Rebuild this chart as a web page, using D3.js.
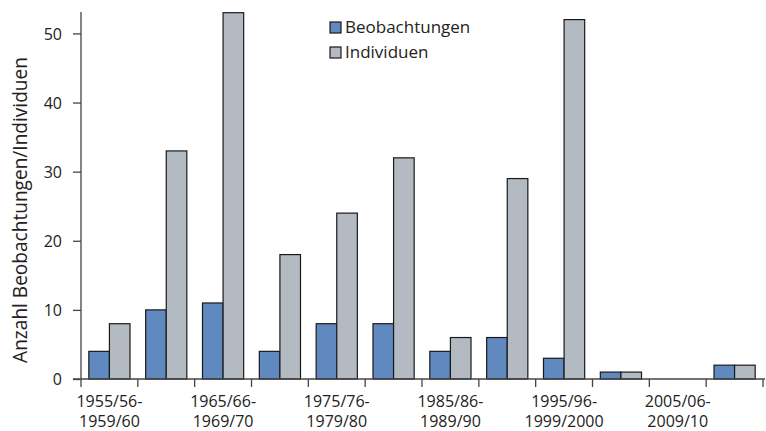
<!DOCTYPE html>
<html><head><meta charset="utf-8">
<script src="https://cdn.jsdelivr.net/npm/d3@7/dist/d3.min.js"></script>
<style>body{margin:0;background:#fff;} svg{display:block;font-family:"Open Sans",sans-serif;}</style>
</head><body><svg id="c" width="766" height="431"></svg>
<script>
const categories = ["1955/56-1959/60","1960/61-1964/65","1965/66-1969/70","1970/71-1974/75","1975/76-1979/80","1980/81-1984/85","1985/86-1989/90","1990/91-1994/95","1995/96-1999/2000","2000/01-2004/05","2005/06-2009/10","2010/11-2014/15"];
const beobachtungen = [4,10,11,4,8,8,4,6,3,1,0,2];
const individuen = [8,33,53,18,24,32,6,29,52,1,0,2];
const seriesNames = ["Beobachtungen","Individuen"];
const yTicks = [0,10,20,30,40,50];
const labelLines = {"1955/56-1959/60":["1955/56-","1959/60"],"1965/66-1969/70":["1965/66-","1969/70"],"1975/76-1979/80":["1975/76-","1979/80"],"1985/86-1989/90":["1985/86-","1989/90"],"1995/96-1999/2000":["1995/96-","1999/2000"],"2005/06-2009/10":["2005/06-","2009/10"]};

const colors = ["#5f89bf","#b3bac2"];
const svg = d3.select("#c");
const L = 81, R = 763, T = 12, B = 379;
const x = d3.scaleBand().domain(categories).range([L, R]).paddingInner(0).paddingOuter(0);
const inner = d3.scaleBand().domain(seriesNames).range([0, x.bandwidth()]).paddingInner(0).paddingOuter(0.38);
const y = d3.scaleLinear().domain([0, 53.1]).range([B, T]);

const data = categories.map((c,i)=>({c, vals:[beobachtungen[i], individuen[i]]}));
const g = svg.append("g");
data.forEach(d=>{
  d.vals.forEach((v,j)=>{
    if (v<=0) return;
    g.append("rect")
      .attr("x", x(d.c)+inner(seriesNames[j]))
      .attr("y", y(v))
      .attr("width", inner.bandwidth())
      .attr("height", y(0)-y(v))
      .attr("fill", colors[j])
      .attr("stroke", "#1a1a1a")
      .attr("stroke-width", 1.2);
  });
});

// y axis
const axisColor = "#444";
const yAxis = svg.append("g").attr("transform",`translate(${L},0)`)
  .call(d3.axisLeft(y).tickValues(yTicks).tickSize(8).tickSizeOuter(0));
yAxis.select(".domain").remove();
yAxis.append("line").attr("x1",0).attr("x2",0).attr("y1",T).attr("y2",B).attr("stroke",axisColor).attr("stroke-width",1.3);
yAxis.selectAll(".tick line").attr("stroke",axisColor).attr("stroke-width",1.3);
yAxis.selectAll(".tick text").attr("x",-19).attr("dy","0.36em").attr("font-size",16).attr("fill","#222").attr("font-family","'Open Sans',sans-serif");

// x axis
const xa = svg.append("g");
xa.append("line").attr("x1",L-8).attr("x2",R+2).attr("y1",B).attr("y2",B).attr("stroke",axisColor).attr("stroke-width",1.3);
const bounds = categories.map(c=>x(c)).concat([x(categories[categories.length-1])+x.bandwidth()]);
xa.selectAll("line.tk").data(bounds).join("line").attr("class","tk")
  .attr("x1",d=>d).attr("x2",d=>d).attr("y1",B).attr("y2",B+8).attr("stroke",axisColor).attr("stroke-width",1.3);
categories.forEach(c=>{
  const lines = labelLines[c];
  if(!lines) return;
  const t = xa.append("text").attr("text-anchor","middle").attr("font-size",16).attr("fill","#222");
  lines.forEach((ln,k)=>t.append("tspan").attr("x",x(c)+x.bandwidth()/2).attr("y",407+k*20).text(ln));
});

// y label
const yl = svg.append("text").attr("transform","translate(27,210) rotate(-90)").attr("text-anchor","middle")
  .attr("font-size",17.5).attr("fill","#222").text("Anzahl Beobachtungen/Individuen");
const len = yl.node().getComputedTextLength();
yl.attr("font-size", 17.5*306/len);

// legend
const lg = svg.append("g");
seriesNames.forEach((s,i)=>{
  lg.append("rect").attr("x",330).attr("y",22+i*25).attr("width",11).attr("height",11)
    .attr("fill",colors[i]).attr("stroke","#1a1a1a").attr("stroke-width",1.2);
  lg.append("text").attr("x",345).attr("y",33+i*25).attr("font-size",17).attr("fill","#222").text(s);
});
</script></body></html>
